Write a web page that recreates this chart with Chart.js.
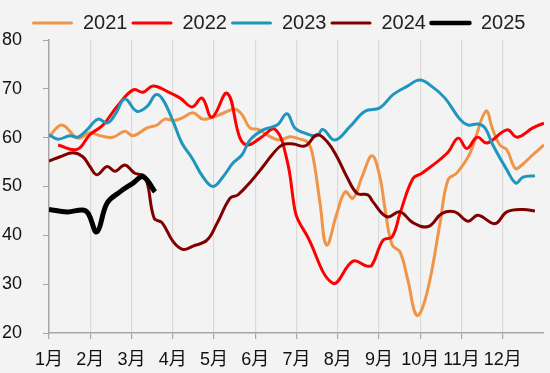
<!DOCTYPE html>
<html>
<head>
<meta charset="utf-8">
<script src="https://cdn.jsdelivr.net/npm/chart.js@4/dist/chart.umd.min.js"></script>
<style>
  html,body{margin:0;padding:0;background:#f3f3f3;}
  #wrap{width:550px;height:373px;}
</style>
</head>
<body>
<div id="wrap"><canvas id="c" width="550" height="373"></canvas></div>
<script>
// x positions are in months from the 1月 tick (0 = 1月, 11 = 12月)
const monthLabels=['1月','2月','3月','4月','5月','6月','7月','8月','9月','10月','11月','12月'];
const seriesNames=['2021','2022','2023','2024','2025'];

const x2021=[0,0.31,0.70,0.99,1.24,1.55,1.84,2.04,2.38,2.62,2.81,3.01,3.22,3.49,3.73,3.98,4.22,4.51,4.68,4.87,5.07,5.36,5.60,5.84,6.08,6.28,6.40,6.57,6.73,6.98,7.18,7.37,7.59,7.83,8.02,8.15,8.32,8.51,8.70,8.92,9.16,9.48,9.67,9.89,10.21,10.59,10.76,10.93,11.10,11.30,11.42,11.73,12.0];
const v2021=[60.2,62.6,59.9,61,60.4,60.1,61.3,60.4,62,62.6,63.8,63.5,64,65.1,63.8,64.2,65,65.8,64.7,62,61.7,60.2,59.5,60.2,59.7,59,56.1,46.6,38.0,44.5,48.9,47.6,52,56.3,52,45.2,38,36.6,30.8,23.6,28.1,42.5,51.3,52.8,56.9,65.4,61.6,58.5,57.5,53.7,54.1,56.5,58.5];

const x2022=[0.22,0.68,0.99,1.31,1.65,2.04,2.28,2.52,2.86,3.18,3.47,3.71,3.95,4.32,4.63,4.82,5.12,5.48,5.77,5.96,6.04,6.25,6.88,7.37,7.71,7.83,8.10,8.32,8.51,8.82,9.04,9.65,9.92,10.13,10.38,10.62,11.10,11.35,11.73,12.0];
const v2022=[58.5,57.6,60.6,62.6,66.4,69.8,69.3,70.6,69.5,68.1,66.3,68.1,64.2,69.1,59.9,58.5,59.9,61.7,55.4,45.2,43.1,40,30.2,34.7,33.7,33.9,39,39.7,44.5,51.6,52.7,56.8,59.9,57.8,60.1,58.9,61.6,60.1,62,63];

const x2023=[0,0.22,0.51,0.70,0.92,1.19,1.41,1.60,1.84,2.13,2.38,2.59,2.76,3.01,3.22,3.47,3.73,3.98,4.22,4.46,4.68,4.87,5.19,5.53,5.77,5.96,6.21,6.50,6.64,6.93,7.30,7.66,8.02,8.34,8.68,8.99,9.28,9.60,9.96,10.16,10.40,10.57,10.76,11.10,11.32,11.49,11.78];
const v2023=[60.6,59.7,60.4,60.1,61.6,63.8,63,64.7,67.9,65.4,66.4,68.8,67.8,63.3,58.9,55.8,52,50,52,54.8,56.5,59.5,61.6,62.6,64.9,62,60.9,60.4,61.7,59.5,62.3,65.4,66.1,68.8,70.5,71.8,70.5,68.1,63.8,62.6,62.8,62,58.5,53.4,50.7,51.9,52.2];

const x2024=[0,0.27,0.58,0.82,0.99,1.16,1.41,1.60,1.84,2.08,2.33,2.55,2.74,3.01,3.25,3.49,3.83,4.07,4.39,4.58,4.92,5.19,5.41,5.65,5.92,6.21,6.50,6.74,6.98,7.22,7.47,7.73,7.85,8.19,8.51,8.82,9.19,9.53,9.84,10.16,10.40,10.81,11.10,11.49,11.78];
const v2024=[55.2,56.1,56.9,56.1,54.1,52.4,54.1,53.1,54.4,52.7,52,43.5,42.6,38.7,37.1,37.8,39,42.4,47.6,48.3,51.3,54.1,56.5,58.5,58.7,58.3,60.6,59.2,56.1,52,48.6,48.3,46.9,43.8,44.8,42.6,41.8,44.5,44.8,42.9,44.1,42.4,44.8,45.3,45.0];

const x2025=[0,0.44,0.82,0.95,1.16,1.41,1.72,2.04,2.28,2.57];
const v2025=[45.3,44.8,45.2,44.5,40.7,46.6,48.9,50.7,52,48.9];

const colors=['#ef9548','#ff0000','#1f96bd','#800000','#000000'];
const widths=[3,3,3,3,5];

const xs=[x2021,x2022,x2023,x2024,x2025];
const vs=[v2021,v2022,v2023,v2024,v2025];

const datasets=seriesNames.map((name,i)=>({
  label:name,
  data:xs[i].map((x,j)=>({x:x,y:vs[i][j]})),
  borderColor:colors[i],
  backgroundColor:colors[i],
  borderWidth:widths[i],
  pointRadius:0,
  tension:0.4,
  fill:false,
  order:4-i
}));

const bgPlugin={id:'bg',beforeDraw(chart){const ctx=chart.ctx;ctx.save();ctx.fillStyle='#f3f3f3';ctx.fillRect(0,0,chart.width,chart.height);ctx.restore();}};
// nudge the legend row so it starts where the original one does
const legendShift={id:'legendShift',afterLayout(chart){if(chart.legend){chart.legend.left+=28;chart.legend.top+=3;}}};

new Chart(document.getElementById('c'),{
  type:'line',
  data:{datasets},
  plugins:[bgPlugin,legendShift],
  options:{
    responsive:false,
    animation:false,
    layout:{padding:{top:6,left:0,right:6,bottom:0}},
    plugins:{
      tooltip:{enabled:false},
      legend:{
        position:'top',align:'start',
        labels:{
          boxWidth:41,boxHeight:3,padding:4,color:'#222',
          font:{family:'"Liberation Sans Narrow","Arial Narrow","Liberation Sans",Arial,sans-serif',size:20},
          generateLabels:chart=>chart.data.datasets.map((ds,i)=>({
            text:ds.label,fillStyle:ds.borderColor,strokeStyle:ds.borderColor,
            lineWidth:i===4?1.5:0,borderRadius:1.5,datasetIndex:i,hidden:false,fontColor:'#222'
          }))
        }
      }
    },
    scales:{
      x:{
        type:'linear',min:0,max:12,
        afterBuildTicks:s=>{s.ticks=monthLabels.map((m,i)=>({value:i}));},
        afterFit:s=>{s.height=40;},
        grid:{color:'#dadada',lineWidth:1.2,tickLength:6,tickColor:'#a6a6a6',drawOnChartArea:true},
        border:{color:'#a6a6a6',width:1.5},
        ticks:{color:'#111',padding:10,maxRotation:0,autoSkip:false,
          font:{family:'"Liberation Sans","Noto Sans CJK SC",sans-serif',size:18},
          callback:v=>monthLabels[v]}
      },
      y:{
        min:20,max:80,
        afterFit:s=>{s.width=49;},
        grid:{drawOnChartArea:false,tickLength:6,tickColor:'#a6a6a6'},
        border:{color:'#a6a6a6',width:1.5},
        ticks:{stepSize:10,color:'#111',padding:21,
          font:{family:'"Liberation Sans",Arial,sans-serif',size:18}}
      }
    }
  }
});
</script>
</body>
</html>
